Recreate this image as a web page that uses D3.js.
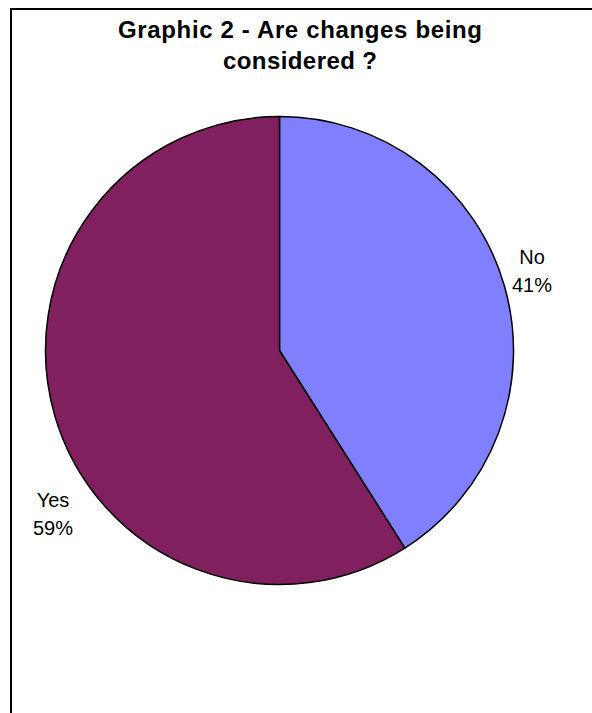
<!DOCTYPE html>
<html><head><meta charset="utf-8">
<script src="https://cdn.jsdelivr.net/npm/d3@7"></script>
<style>html,body{margin:0;padding:0;background:#fff;}svg{display:block;}</style>
</head><body>
<svg id="c" width="592" height="713"></svg>
<script>
const categories = ["No", "Yes"];
const values = [41, 59];
const colors = ["#8080ff", "#80205e"];
const titleLines = ["Graphic 2 - Are changes being", "considered ?"];

const svg = d3.select("#c");
// frame (top and left edges visible)
svg.append("path").attr("d", "M11,713 V9 H592").attr("fill", "none").attr("stroke", "#000").attr("stroke-width", 2);

const titleSpecs = [{y: 38, len: 364}, {y: 69, len: 154}];
svg.append("g").attr("font-family", "Liberation Sans, Arial, sans-serif").attr("font-weight", "bold").attr("font-size", 24)
  .selectAll("text").data(titleLines).join("text")
  .attr("x", 300).attr("y", (d, i) => titleSpecs[i].y).attr("text-anchor", "middle")
  .attr("textLength", (d, i) => titleSpecs[i].len).attr("lengthAdjust", "spacing")
  .text(d => d);

const cx = 279.5, cy = 350.5, r = 234;
const pie = d3.pie().sort(null).value(d => d.v);
const arcs = pie(categories.map((c, i) => ({c, v: values[i], col: colors[i]})));
const arc = d3.arc().innerRadius(0).outerRadius(r);
const g = svg.append("g").attr("transform", `translate(${cx},${cy})`);
g.selectAll("path").data(arcs).join("path")
  .attr("d", arc).attr("fill", d => d.data.col)
  .attr("stroke", "#000").attr("stroke-width", 1.5).attr("stroke-linejoin", "round");

const labelPos = {"No": [532, 264], "Yes": [53, 507]};
const lab = svg.append("g").attr("font-family", "Liberation Sans, Arial, sans-serif").attr("font-size", 20).attr("fill", "#000");
arcs.forEach(d => {
  const [x, y] = labelPos[d.data.c];
  const t = lab.append("text").attr("text-anchor", "middle").attr("x", x).attr("y", y);
  t.append("tspan").attr("x", x).text(d.data.c);
  t.append("tspan").attr("x", x).attr("dy", 27.5).text(Math.round(d.data.v) + "%");
});
</script>
</body></html>
